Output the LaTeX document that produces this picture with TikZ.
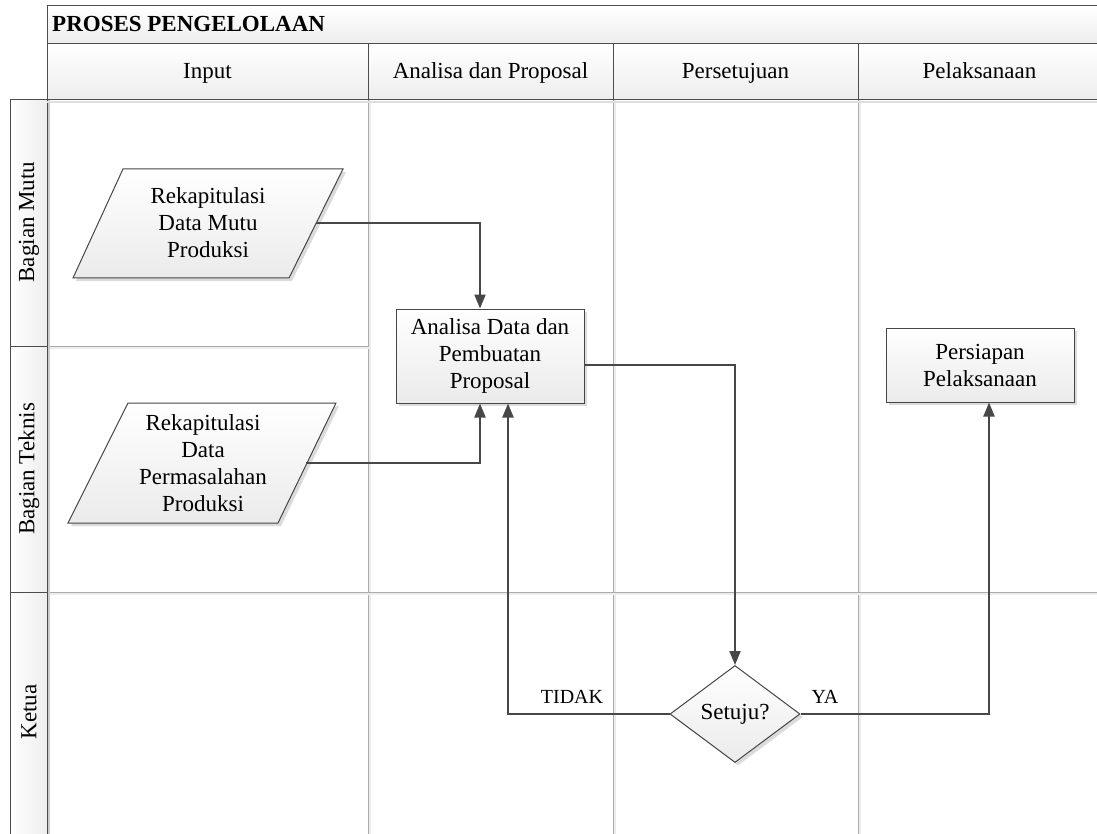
\documentclass[tikz,border=0pt]{standalone}
\usepackage{fontspec}
\setmainfont{Liberation Serif}
\usetikzlibrary{arrows.meta,shadows,shapes.geometric,calc}

\newcommand\dgsize{\fontsize{23}{27}\selectfont}
\newcommand\dglabelsize{\fontsize{20}{24}\selectfont}

\tikzset{
  gridline/.style={draw=gray!65, line width=1pt},
  frameline/.style={draw=gray!60!black, line width=1pt},
  hdrcell/.style={frameline, top color=white, bottom color=gray!14},
  lanecell/.style={frameline, left color=white, right color=gray!14},
  celltext/.style={font=\dgsize, inner sep=0pt},
  shapefill/.style={draw=gray!55!black, line width=1pt, top color=white, bottom color=gray!16,
    drop shadow={shadow xshift=3pt, shadow yshift=-3pt, fill=gray!40, opacity=0.7}},
  procbox/.style={shapefill, rectangle, align=center, font=\dgsize, inner sep=0pt},
  decision/.style={shapefill, diamond, align=center, font=\dgsize, inner sep=0pt},
  iotext/.style={align=center, font=\dgsize, inner sep=0pt},
  flow/.style={draw=black!72, line width=2pt, -{Triangle[length=14pt,width=11pt]}},
  flowlabel/.style={font=\dglabelsize, inner sep=0pt},
}

\begin{document}
\begin{tikzpicture}[x=1pt,y=-1pt]
\useasboundingbox (0,0) rectangle (1097,834);
\fill[white] (0,0) rectangle (1097,834);

% body grid of the swimlanes
\foreach \gx in {368,613,858} {
  \draw[gray!15, line width=2pt] (\gx+2,100) -- (\gx+2,840);
  \draw[gridline] (\gx,100) -- (\gx,840);
}
\draw[gray!15, line width=2pt] (47,594) -- (1100,594);
\draw[gridline] (47,592) -- (1100,592);
\draw[gray!15, line width=2pt] (47,348) -- (370,348);
\draw[gridline] (47,346) -- (368,346);

% lane headers on the left
\path[lanecell] (10,100) rectangle (47,346);
\path[lanecell] (10,346) rectangle (47,592);
\path[lanecell] (10,592) rectangle (47,840);
\draw[gray!40, line width=2pt] (49,100) -- (49,840);
\draw[frameline] (47,100) -- (47,840);
\node[celltext, rotate=90] (laneA) at (29,222) {Bagian Mutu};
\node[celltext, rotate=90] (laneB) at (29,469) {Bagian Teknis};
\node[celltext, rotate=90] (laneC) at (29,712) {Ketua};

% title bar and column headers
\path[hdrcell] (47,6) rectangle (1100,44);
\node[font=\dgsize\bfseries, inner sep=0pt, anchor=base west] (title) at (52,32) {PROSES PENGELOLAAN};
\path[hdrcell] (47,44) rectangle (368,100);
\path[hdrcell] (368,44) rectangle (613,100);
\path[hdrcell] (613,44) rectangle (858,100);
\path[hdrcell] (858,44) rectangle (1100,100);
\draw[gray!25, line width=2pt] (47,102) -- (1100,102);
\node[celltext, anchor=base] (colA) at (207.5,79) {Input};
\node[celltext, anchor=base] (colB) at (490.5,79) {Analisa dan Proposal};
\node[celltext, anchor=base] (colC) at (735.5,79) {Persetujuan};
\node[celltext, anchor=base] (colD) at (979.5,79) {Pelaksanaan};

% data (parallelogram) shapes
\path[shapefill] (123,169) -- (343,169) -- (289,278) -- (73,278) -- cycle;
\node[iotext] (rekmutu) at (208,223) {Rekapitulasi\\Data Mutu\\Produksi};
\coordinate (rekmutuout) at (316,223);

\path[shapefill] (128,403) -- (336,403) -- (278,523) -- (68,523) -- cycle;
\node[iotext] (rektek) at (203,463) {Rekapitulasi\\Data\\Permasalahan\\Produksi};
\coordinate (rektekout) at (306,463);

% process boxes
\node[procbox, minimum width=188pt, minimum height=94pt] (analisa) at (490,356)
  {Analisa Data dan\\Pembuatan\\Proposal};
\node[procbox, minimum width=188pt, minimum height=74pt] (persiapan) at (980,365)
  {Persiapan\\Pelaksanaan};

% decision
\node[decision, minimum width=130pt, minimum height=97pt] (setuju) at (735,714) {Setuju?};

% connectors
\draw[flow] (rekmutuout) -| ([xshift=-10pt]analisa.north);
\draw[flow] (rektekout) -| ([xshift=-10pt]analisa.south);
\draw[flow] ([yshift=-9pt]analisa.east) -| (setuju.north);
\draw[flow] (setuju.west) -| ([xshift=18pt]analisa.south);
\draw[flow] (setuju.east) -| ([xshift=9pt]persiapan.south);

\node[flowlabel] (tidak) at (572,697) {TIDAK};
\node[flowlabel] (ya) at (825,697) {YA};
\end{tikzpicture}
\end{document}
